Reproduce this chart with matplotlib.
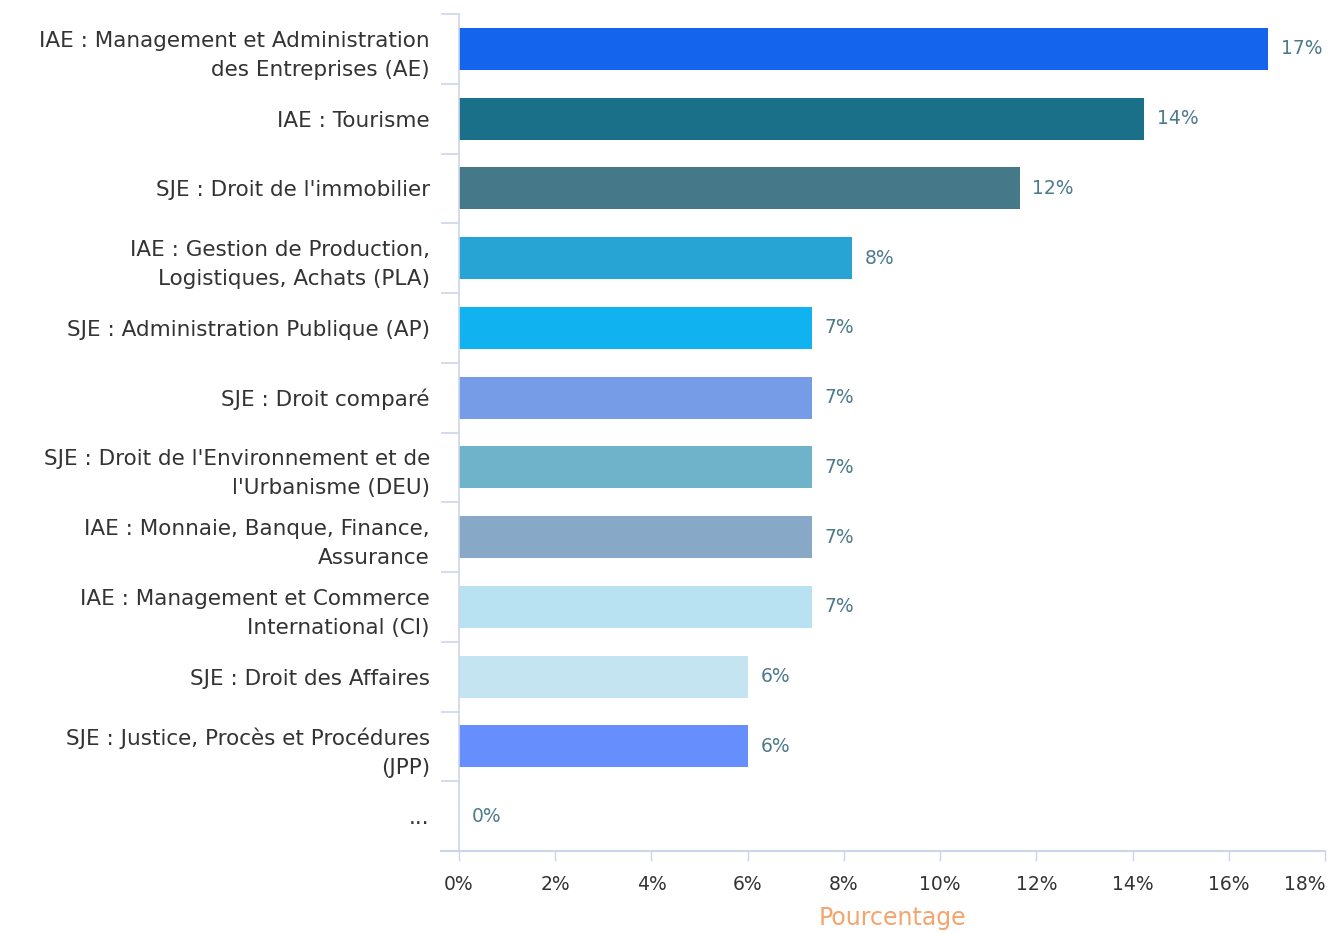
import numpy as np
import matplotlib
matplotlib.use("Agg")
import matplotlib.pyplot as plt
from matplotlib.lines import Line2D
from matplotlib.ticker import FixedLocator

plt.rcParams['font.family'] = ['DejaVu Sans']

# données
categories = [
    "IAE : Management et Administration\ndes Entreprises (AE)",
    "IAE : Tourisme",
    "SJE : Droit de l'immobilier",
    "IAE : Gestion de Production,\nLogistiques, Achats (PLA)",
    "SJE : Administration Publique (AP)",
    "SJE : Droit comparé",
    "SJE : Droit de l'Environnement et de\nl'Urbanisme (DEU)",
    "IAE : Monnaie, Banque, Finance,\nAssurance",
    "IAE : Management et Commerce\nInternational (CI)",
    "SJE : Droit des Affaires",
    "SJE : Justice, Procès et Procédures\n(JPP)",
    "...",
]
values = [16.82, 14.24, 11.66, 8.17, 7.34, 7.34, 7.34, 7.34, 7.34, 6.01, 6.01, 0.0]
colors = ['#1464ee', '#1b7089', '#457889', '#27a4d4', '#10b3f0', '#769ce8',
          '#6fb3cb', '#88a8c8', '#b8e2f2', '#c4e4f1', '#668ffd', '#cccccc']
xticks = [0, 2, 4, 6, 8, 10, 12, 14, 16, 18]

axis_col = '#ccd6eb'
label_col = '#4d7a8c'

fig = plt.figure(figsize=(13.27, 9.33), dpi=100)
ax = fig.add_axes([459 / 1327, 1 - 851 / 933, 866 / 1327, (851 - 14) / 933])

y = np.arange(len(categories))
ax.barh(y, values, height=0.6, color=colors, zorder=2)

for yi, v in zip(y, values):
    ax.annotate(f"{v:.0f}%", (v, yi), xytext=(9, 0), textcoords='offset points',
                va='center', ha='left', fontsize=13.5, color=label_col)

ax.set_ylim(len(categories) - 0.5, -0.5)
ax.set_xlim(0, 18)

ax.set_yticks(y)
ax.set_yticklabels(categories, fontsize=15.5, color='#333333', linespacing=1.55)
ax.yaxis.set_minor_locator(FixedLocator(np.arange(-0.5, len(categories), 1)))
ax.tick_params(axis='y', which='major', length=0, pad=21)
ax.tick_params(axis='y', which='minor', length=13, width=1.2, color=axis_col)

ax.set_xticks(xticks)
ax.set_xticklabels([f"{t}%" for t in xticks], fontsize=13.5, color='#333333')
ax.get_xticklabels()[-1].set_ha('right')
ax.get_xticklabels()[-1].set_x(18)
ax.tick_params(axis='x', length=7, width=1, color=axis_col, pad=10)

ax.set_xlabel("Pourcentage", fontsize=17, color='#f4a46c', labelpad=9)

for s in ['top', 'right', 'bottom']:
    ax.spines[s].set_visible(False)
ax.spines['left'].set_color(axis_col)
ax.spines['left'].set_linewidth(1.2)

# ligne de l'axe x prolongée vers la gauche
fig.add_artist(Line2D([441 / 1327, 1325 / 1327], [1 - 851 / 933, 1 - 851 / 933],
                      color=axis_col, lw=1.5))

fig.savefig("out.png", dpi=100)
